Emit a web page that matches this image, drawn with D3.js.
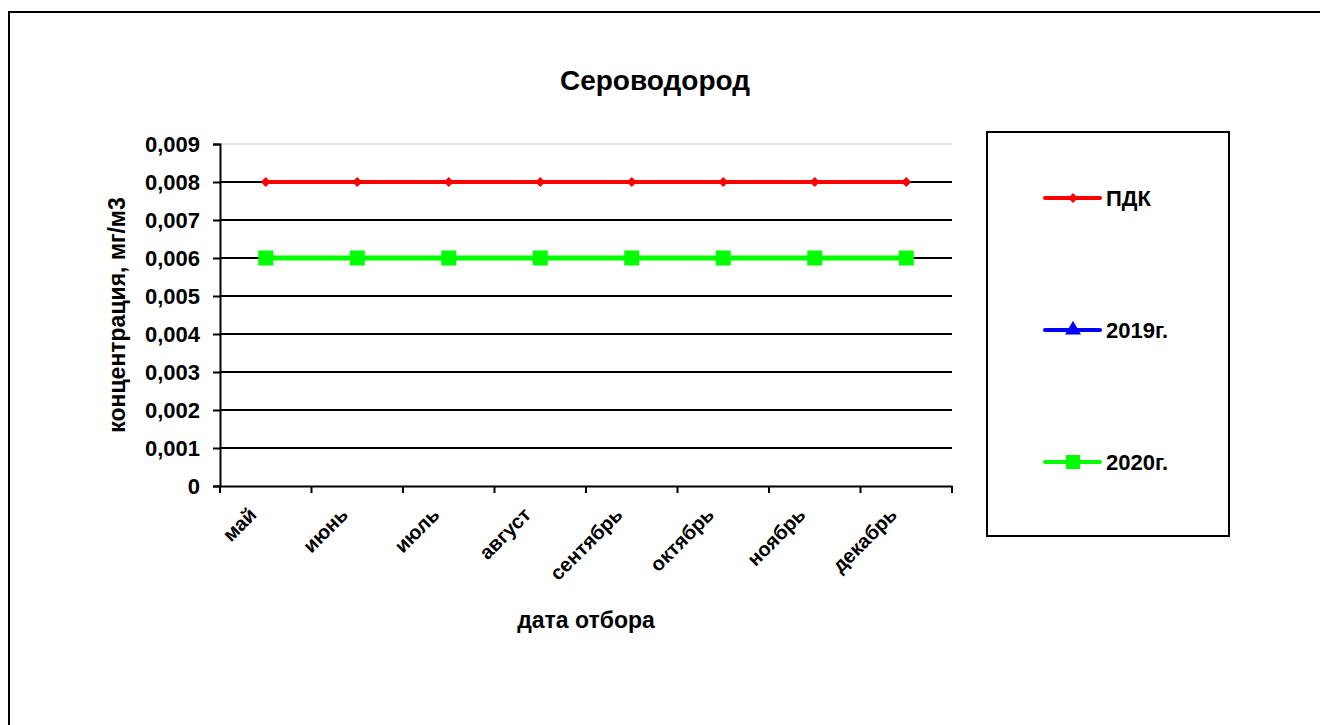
<!DOCTYPE html>
<html><head><meta charset="utf-8">
<script src="https://cdn.jsdelivr.net/npm/d3@7"></script>
<style>body{margin:0;background:#fff}svg{display:block}text{font-family:Arial,"Liberation Sans",sans-serif;font-weight:bold;fill:#000}</style>
</head><body>
<svg id="c" width="1320" height="725"></svg>
<script>
const months = ["май","июнь","июль","август","сентябрь","октябрь","ноябрь","декабрь"];
const pdk    = [0.008,0.008,0.008,0.008,0.008,0.008,0.008,0.008];
const y2019  = [0.006,0.006,0.006,0.006,0.006,0.006,0.006,0.006];
const y2020  = [0.006,0.006,0.006,0.006,0.006,0.006,0.006,0.006];
const yTicks = [0,0.001,0.002,0.003,0.004,0.005,0.006,0.007,0.008,0.009];
const seriesNames = ["ПДК","2019г.","2020г."];

const svg = d3.select("#c");
// outer frame
svg.append("rect").attr("x",9).attr("y",12).attr("width",1400).attr("height",800)
  .attr("fill","none").attr("stroke","#000").attr("stroke-width",2);

const L=220,R=952,T=144,B=486;
const x = d3.scaleBand().domain(months).range([L,R]);
const y = d3.scaleLinear().domain([0,0.009]).range([B,T]);
const fmt = d => d===0 ? "0" : d3.format(".3f")(d).replace(".",",");
const diamond = "M0,-5L5,0L0,5L-5,0Z";

// gridlines
svg.append("g").selectAll("line").data(yTicks.filter(d=>d>0)).join("line")
  .attr("x1",L).attr("x2",R).attr("y1",d=>y(d)).attr("y2",d=>y(d))
  .attr("stroke",d=>d===0.009?"#c8c8c8":"#000").attr("stroke-width",d=>d===0.009?1:2);

// y axis
const ya = svg.append("g").attr("transform",`translate(${L},0)`)
  .call(d3.axisLeft(y).tickValues(yTicks).tickFormat(fmt).tickSize(7).tickPadding(13));
ya.select(".domain").attr("stroke","#000").attr("stroke-width",2);
ya.selectAll(".tick line").attr("stroke","#000").attr("stroke-width",2);
ya.selectAll("text").style("font-size","22px").style("font-family","Arial,'Liberation Sans',sans-serif").style("font-weight","bold").attr("dy","0.36em");

// x axis
const xa = svg.append("g").attr("transform",`translate(0,${B})`)
  .call(d3.axisBottom(x).tickSize(0).tickFormat(""));
xa.select(".domain").attr("stroke","#000").attr("stroke-width",2);
const bounds = months.map((m,i)=>L+i*x.step()).concat([R]);
xa.selectAll(".bt").data(bounds).join("line").attr("class","bt")
  .attr("x1",d=>d).attr("x2",d=>d).attr("y1",0).attr("y2",7).attr("stroke","#000").attr("stroke-width",2);
svg.append("g").selectAll("text").data(months).join("text")
  .attr("transform",d=>`translate(${x(d)+x.bandwidth()/2-8},${B+30}) rotate(-45)`)
  .attr("text-anchor","end").style("font-size","20px").text(d=>d);

// line generator
const line = d3.line().x((d,i)=>x(months[i])+x.bandwidth()/2).y(d=>y(d));
const cx = i => x(months[i])+x.bandwidth()/2;

// 2019 (blue, triangles) — behind 2020
svg.append("path").datum(y2019).attr("d",line).attr("fill","none").attr("stroke","#0000ff").attr("stroke-width",4);
svg.append("g").selectAll("path").data(y2019).join("path")
  .attr("d",d3.symbol(d3.symbolTriangle,70)).attr("transform",(d,i)=>`translate(${cx(i)},${y(d)+1})`).attr("fill","#0000ff");
// 2020 (green, squares)
svg.append("path").datum(y2020).attr("d",line).attr("fill","none").attr("stroke","#00ff00").attr("stroke-width",5);
svg.append("g").selectAll("rect").data(y2020).join("rect")
  .attr("x",(d,i)=>cx(i)-7.5).attr("y",d=>y(d)-7.5).attr("width",15).attr("height",15).attr("fill","#00ff00");
// ПДК (red, diamonds)
svg.append("path").datum(pdk).attr("d",line).attr("fill","none").attr("stroke","#ff0000").attr("stroke-width",4);
svg.append("g").selectAll("path").data(pdk).join("path")
  .attr("d",diamond).attr("transform",(d,i)=>`translate(${cx(i)},${y(d)})`).attr("fill","#ff0000");

// titles
svg.append("text").attr("x",655).attr("y",90).attr("text-anchor","middle").style("font-size","28px").text("Сероводород");
svg.append("text").attr("transform",`translate(117,${(T+B)/2}) rotate(-90)`).attr("dy","0.36em").attr("text-anchor","middle").style("font-size","23px").text("концентрация, мг/м3");
svg.append("text").attr("x",586).attr("y",628).attr("text-anchor","middle").style("font-size","23px").text("дата отбора");

// legend
svg.append("rect").attr("x",987).attr("y",132).attr("width",242).attr("height",404).attr("fill","none").attr("stroke","#000").attr("stroke-width",2);
const legY = [198,330,462];
const colors = ["#ff0000","#0000ff","#00ff00"];
const lg = svg.append("g").selectAll("g").data(seriesNames).join("g").attr("transform",(d,i)=>`translate(0,${legY[i]})`);
lg.append("line").attr("x1",1045).attr("x2",1100).attr("y1",0).attr("y2",0).attr("stroke",(d,i)=>colors[i]).attr("stroke-width",4).attr("stroke-linecap","round");
lg.append("path").attr("transform","translate(1073,0)")
  .attr("d",(d,i)=>i===0?diamond:i===1?d3.symbol(d3.symbolTriangle,110)():d3.symbol(d3.symbolSquare,196)())
  .attr("fill",(d,i)=>colors[i]);
lg.append("text").attr("x",1106).attr("y",0).attr("dy","0.36em").style("font-size","22px").text(d=>d);
</script>
</body></html>
